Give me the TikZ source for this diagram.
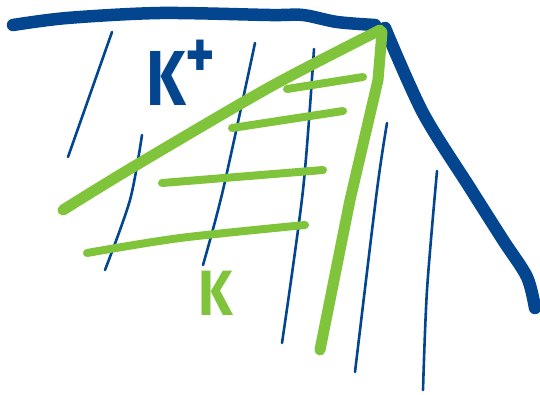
\documentclass[tikz,border=0pt]{standalone}
\usepackage{fontspec}
\newfontfamily\sketchfont{Fira Sans}
\definecolor{potblue}{HTML}{03468F}
\definecolor{potgreen}{HTML}{7FC43A}
\begin{document}
\begin{tikzpicture}[x=1pt,y=-1pt,line cap=round,line join=round,
  thickblue/.style={potblue,line width=12.5pt},
  thinblue/.style={potblue,line width=2.6pt},
  thickgreen/.style={potgreen,line width=11pt},
  hatchgreen/.style={potgreen,line width=8pt},
  sketchtext/.style={inner sep=0pt,font=\sketchfont\bfseries}]
\useasboundingbox (0,0) rectangle (540,394);
% outer boundary
\draw[thickblue] plot[smooth] coordinates {(13,25) (67,18) (160,13) (270,15) (303,15) (337,22) (375,25)};
\draw[thickblue] plot[smooth] coordinates {(385,28) (423,113) (470,188) (503,240) (527,277) (535,308)};
% thin hatching
\draw[thinblue] (112,32) -- (68,157);
\draw[thinblue] plot[smooth] coordinates {(142,135) (130,200) (105,270)};
\draw[thinblue] plot[smooth] coordinates {(255,43) (223,190) (203,265)};
\draw[thinblue] plot[smooth] coordinates {(314,49) (303,190) (282,343)};
\draw[thinblue] plot[smooth] coordinates {(387,123) (377,190) (355,372)};
\draw[thinblue] plot[smooth] coordinates {(437,171) (427,290) (423,390)};
% green wedge
\draw[thickgreen] plot[smooth] coordinates {(380,30) (270,87) (133,167) (63,210)};
\draw[thickgreen] (382,32) -- (378,80) -- (350,200) -- (320,350);
\draw[hatchgreen] (287,89) -- (363,77);
\draw[hatchgreen] (232,128) -- (343,111);
\draw[hatchgreen] (162,183) -- (323,170);
\draw[hatchgreen] plot[smooth] coordinates {(87,253) (180,238) (305,225)};
% labels
\node[sketchtext,potblue,font=\sketchfont\bfseries\fontsize{78}{80}\selectfont,xscale=0.8,anchor=base west] (kplus) at (146,105) {K\raisebox{27pt}{\fontsize{70}{70}\selectfont +}};
\node[sketchtext,potgreen,font=\sketchfont\bfseries\fontsize{64}{66}\selectfont,xscale=0.85,anchor=base west] (kgreen) at (198,315) {K};
\end{tikzpicture}
\end{document}
